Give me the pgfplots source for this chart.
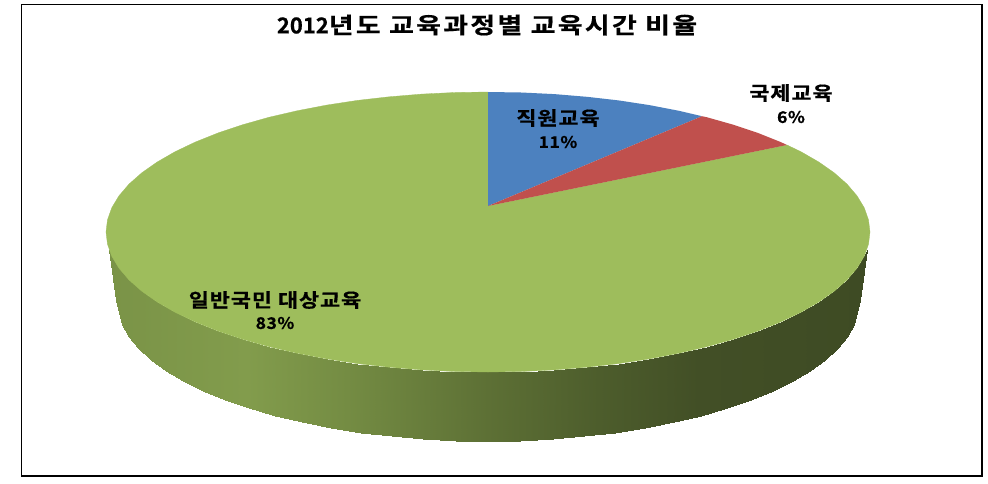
\documentclass[border=0pt]{standalone}
\usepackage{pgfplots}
\pgfplotsset{compat=1.18}
\usepackage{fontspec}
\setmainfont{Noto Sans CJK KR}
\newfontfamily\krb[LetterSpace=5,FakeStretch=1.15,FakeBold=0.6]{Noto Sans CJK KR Bold}
\newfontfamily\krt[LetterSpace=10,FakeStretch=1.2,FakeBold=0.6]{Noto Sans CJK KR Bold}
\newfontfamily\krn[LetterSpace=3,FakeStretch=1.1,FakeBold=0.6]{Noto Sans CJK KR Bold}
\newfontfamily\krd[FakeBold=0.6]{Noto Sans CJK KR Bold}
\definecolor{pgreen}{RGB}{158,189,92}
\definecolor{pblue}{RGB}{76,129,191}
\definecolor{pred}{RGB}{192,80,77}
\begin{document}
\begin{tikzpicture}
\begin{axis}[
  width=988pt,height=483pt,scale only axis,
  xmin=0,xmax=988,ymin=0,ymax=483,y dir=reverse,
  axis lines=none,clip=false,
  point meta min=106,point meta max=870,
  colormap={sidecol}{rgb255(0cm)=(122,147,71) rgb255(14cm)=(130,156,76) rgb255(24cm)=(116,140,67) rgb255(38cm)=(93,112,53) rgb255(49cm)=(77,93,44) rgb255(59cm)=(66,79,38) rgb255(76cm)=(62,75,36)},
  title={\fontsize{22}{25}\krd 2012{\fontsize{22.5}{25}\krt 년도 교육과정별 교육시간 비율}},
  title style={at={(axis cs:487,31)},anchor=center,inner sep=0pt,yshift=0pt},
]
% page background and frame
\addplot[fill=white,draw=none,forget plot] coordinates {(0,0)(988,0)(988,483)(0,483)} --cycle;
\addplot[draw=black,line width=1.2pt,forget plot] coordinates {(21.5,4.5)(982,4.5)(982,476)(21.5,476)} --cycle;
% side wall: upper edge, then lower edge
\addplot[surf,shader=interp,mesh/rows=2,point meta=x,forget plot] coordinates {
(109,250)(111.8,256.3)(119,268.2)(129,279.9)(141.8,291.2)(157.2,302)(175.1,312.3)(195.4,322)(217.9,331)(242.4,339.2)(268.9,346.7)(297,353.2)(326.6,358.9)(357.4,363.6)(389.1,367.2)(421.7,369.9)(454.7,371.5)(488,372)(521.3,371.5)(554.3,369.9)(586.9,367.2)(618.6,363.6)(649.4,358.9)(679,353.2)(707.1,346.7)(733.6,339.2)(758.1,331)(780.6,322)(800.9,312.3)(818.8,302)(834.2,291.2)(847,279.9)(857,268.2)(864.2,256.3)(867,250)
(116,300)(121.7,324.5)(128.7,336.5)(138.4,348.2)(150.9,359.6)(165.8,370.5)(183.3,380.9)(203,390.6)(225,399.7)(248.9,408)(274.6,415.5)(302,422.1)(330.8,427.8)(360.8,432.5)(391.7,436.2)(423.4,438.9)(455.6,440.5)(488,441)(520.4,440.5)(552.6,438.9)(584.3,436.2)(615.2,432.5)(645.2,427.8)(674,422.1)(701.4,415.5)(727.1,408)(751,399.7)(773,390.6)(792.7,380.9)(810.2,370.5)(825.1,359.6)(837.6,348.2)(847.3,336.5)(854.3,324.5)(860,300)
};
% top face: 83% slice
\addplot[fill=pgreen,draw=pgreen,line width=0.3pt,forget plot] coordinates {
(870,232)(868.5,219.8)(864.2,207.7)(857,195.8)(847,184.1)(834.2,172.8)(818.8,162)(800.9,151.7)(787,145)(488,206)(488,92)(454.7,92.5)(421.7,94.1)(389.1,96.8)(357.4,100.4)(326.6,105.1)(297,110.8)(268.9,117.3)(242.4,124.8)(217.9,133)(195.4,142)(175.1,151.7)(157.2,162)(141.8,172.8)(129,184.1)(119,195.8)(111.8,207.7)(107.5,219.8)(106,232)(107.5,244.2)(111.8,256.3)(119,268.2)(129,279.9)(141.8,291.2)(157.2,302)(175.1,312.3)(195.4,322)(217.9,331)(242.4,339.2)(268.9,346.7)(297,353.2)(326.6,358.9)(357.4,363.6)(389.1,367.2)(421.7,369.9)(454.7,371.5)(488,372)(521.3,371.5)(554.3,369.9)(586.9,367.2)(618.6,363.6)(649.4,358.9)(679,353.2)(707.1,346.7)(733.6,339.2)(758.1,331)(780.6,322)(800.9,312.3)(818.8,302)(834.2,291.2)(847,279.9)(857,268.2)(864.2,256.3)(868.5,244.2)
} --cycle;
% 11% slice
\addplot[fill=pblue,draw=none,forget plot] coordinates {
(488,206)(488,92)(521.3,92.5)(554.3,94.1)(586.9,96.8)(618.6,100.4)(649.4,105.1)(679,110.8)(702,116.2)
} --cycle;
% 6% slice
\addplot[fill=pred,draw=none,forget plot] coordinates {
(488,206)(702,116.2)(707.1,117.3)(733.6,124.8)(758.1,133)(780.6,142)(787,145)
} --cycle;
\node[font=\fontsize{19}{22}\krb] at (axis cs:558,118) {직원교육};
\node[font=\fontsize{16}{18}\krn] at (axis cs:558,142) {11\%};
\node[font=\fontsize{19}{22}\krb] at (axis cs:791,93) {국제교육};
\node[font=\fontsize{16}{18}\krn] at (axis cs:791,117) {6\%};
\node[font=\fontsize{19}{22}\krb] at (axis cs:275,300) {일반국민 대상교육};
\node[font=\fontsize{16}{18}\krn] at (axis cs:275,323) {83\%};
\end{axis}
\end{tikzpicture}
\end{document}
